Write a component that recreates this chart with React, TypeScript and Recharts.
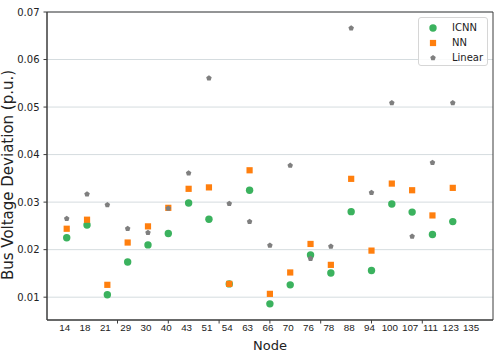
import React from 'react';
import { ScatterChart, Scatter, XAxis, YAxis, CartesianGrid, ReferenceArea, ReferenceLine } from 'recharts';

const nodes = ['14', '18', '21', '29', '30', '40', '43', '51', '54', '63', '66', '70', '76', '78', '88', '94', '100', '107', '111', '123', '135'];
const icnn = [0.0225, 0.0252, 0.0105, 0.0174, 0.0210, 0.0234, 0.0298, 0.0264, 0.0128, 0.0325, 0.0086, 0.0126, 0.0189, 0.0151, 0.0280, 0.0156, 0.0296, 0.0279, 0.0232, 0.0259];
const nn = [0.0244, 0.0263, 0.0126, 0.0215, 0.0249, 0.0288, 0.0328, 0.0331, 0.0128, 0.0367, 0.0107, 0.0152, 0.0212, 0.0168, 0.0349, 0.0198, 0.0339, 0.0325, 0.0272, 0.0330];
const linear = [0.0265, 0.0317, 0.0294, 0.0244, 0.0236, 0.0287, 0.0361, 0.0561, 0.0297, 0.0259, 0.0209, 0.0377, 0.0181, 0.0207, 0.0666, 0.0320, 0.0509, 0.0228, 0.0383, 0.0509];
const yTicks = [0.01, 0.02, 0.03, 0.04, 0.05, 0.06, 0.07];
const markTicks = [2.5, 5, 7.5, 10, 12.5, 15, 17.5];
const seriesNames = ['ICNN', 'NN', 'Linear'];

const GREEN = '#3bb25e';
const ORANGE = '#ff7f0e';
const GRAY = '#7f7f7f';
const FRAME = '#3c3c3c';
const FONT = 'DejaVu Sans';
const XFONT = 'Liberation Sans';

const X_DOMAIN: [number, number] = [-0.97, 20.98];
const Y_DOMAIN: [number, number] = [0.0052, 0.07];
const MARK_LEN = 0.00074;

const toPoints = (vals: number[]) => vals.map((v, i) => ({ idx: i, v }));
const icnnData = toPoints(icnn);
const nnData = toPoints(nn);
const linearData = toPoints(linear);

const pentagonPath = (cx: number, cy: number, r: number) => {
  const pts: string[] = [];
  for (let k = 0; k < 5; k++) {
    const a = (-90 + k * 72) * Math.PI / 180;
    pts.push(`${cx + r * Math.cos(a)},${cy + r * Math.sin(a)}`);
  }
  return pts.join(' ');
};

const CircleShape = (p: any) => <circle cx={p.cx} cy={p.cy} r={3.7} fill={GREEN} />;
const SquareShape = (p: any) => <rect x={p.cx - 3.1} y={p.cy - 3.1} width={6.2} height={6.2} fill={ORANGE} />;
const PentShape = (p: any) => <polygon points={pentagonPath(p.cx, p.cy, 2.9)} fill={GRAY} />;

const XTick = (p: any) => (
  <text x={p.x - 2} y={p.y} dy="0.74em" textAnchor="middle" fontSize={9.8} fontFamily={XFONT} fill="#222">
    {nodes[p.payload.value]}
  </text>
);

const YLabel = (p: any) => {
  const vb = p.viewBox || { x: 0, y: 12, width: 47, height: 308 };
  const x = vb.x + 8;
  const y = vb.y + vb.height / 2 + 9;
  return (
    <text x={x} y={y} transform={`rotate(-90 ${x} ${y})`} textAnchor="middle" dominantBaseline="central" fontSize={15} fontFamily={FONT} fill="#222">
      Bus Voltage Deviation (p.u.)
    </text>
  );
};

const LegendBox = () => {
  const colors = [GREEN, ORANGE, GRAY];
  return (
    <div style={{ position: 'absolute', left: 418, top: 17, width: 68, height: 47, border: '1px solid #d6d6d6', borderRadius: 3, background: 'rgba(255,255,255,0.85)', boxSizing: 'content-box', fontFamily: FONT, fontSize: 10, color: '#222' }}>
      {seriesNames.map((name, i) => (
        <div key={name} style={{ position: 'absolute', left: 0, top: 3 + i * 15, height: 14, width: 68, display: 'flex', alignItems: 'center' }}>
          <svg width={30} height={14} style={{ display: 'block' }}>
            {i === 0 && <circle cx={14} cy={7} r={3.7} fill={colors[0]} />}
            {i === 1 && <rect x={10.9} y={3.9} width={6.2} height={6.2} fill={colors[1]} />}
            {i === 2 && <polygon points={pentagonPath(14, 7, 2.9)} fill={colors[2]} />}
          </svg>
          <span style={{ marginLeft: 3, lineHeight: '14px' }}>{name}</span>
        </div>
      ))}
    </div>
  );
};

export default function App() {
  return (
    <div style={{ position: 'absolute', left: 0, top: 0, width: 498, height: 356, background: '#fff' }}>
      <ScatterChart width={498} height={356} margin={{ top: 12, right: 5, bottom: 0, left: 0 }}>
        <CartesianGrid horizontal vertical={false} stroke="#d5dcdf" strokeWidth={1} xAxisId="x" yAxisId="y" />
        <XAxis
          xAxisId="x"
          dataKey="idx"
          type="number"
          domain={X_DOMAIN}
          ticks={nodes.map((_, i) => i)}
          interval={0}
          tick={<XTick />}
          tickLine={false}
          tickSize={0}
          tickMargin={4}
          height={36}
          axisLine={{ stroke: FRAME, strokeWidth: 1 }}
          allowDataOverflow
          label={{ value: 'Node', position: 'insideBottom', offset: 6, fontSize: 13, fontFamily: FONT, fill: '#222' }}
        />
        <YAxis
          yAxisId="y"
          dataKey="v"
          type="number"
          domain={Y_DOMAIN}
          ticks={yTicks}
          interval={0}
          width={47}
          tickSize={3.5}
          tickMargin={4}
          tickLine={{ stroke: FRAME }}
          axisLine={{ stroke: FRAME, strokeWidth: 1 }}
          tick={{ fontSize: 10, fontFamily: FONT, fill: '#222' }}
          tickFormatter={(v: number) => v.toFixed(2)}
          allowDataOverflow
          label={<YLabel />}
        />
        <ReferenceArea xAxisId="x" yAxisId="y" x1={X_DOMAIN[0]} x2={X_DOMAIN[1]} y1={Y_DOMAIN[0]} y2={Y_DOMAIN[1]} fill="none" fillOpacity={0} stroke={FRAME} strokeWidth={1} ifOverflow="visible" />
        {markTicks.map((t) => (
          <ReferenceLine key={t} xAxisId="x" yAxisId="y" segment={[{ x: t, y: Y_DOMAIN[0] }, { x: t, y: Y_DOMAIN[0] - MARK_LEN }]} stroke={FRAME} strokeWidth={1} ifOverflow="visible" />
        ))}
        <Scatter name="ICNN" data={icnnData} xAxisId="x" yAxisId="y" dataKey="v" fill={GREEN} shape={CircleShape} isAnimationActive={false} />
        <Scatter name="NN" data={nnData} xAxisId="x" yAxisId="y" dataKey="v" fill={ORANGE} shape={SquareShape} isAnimationActive={false} />
        <Scatter name="Linear" data={linearData} xAxisId="x" yAxisId="y" dataKey="v" fill={GRAY} shape={PentShape} isAnimationActive={false} />
      </ScatterChart>
      <LegendBox />
    </div>
  );
}
